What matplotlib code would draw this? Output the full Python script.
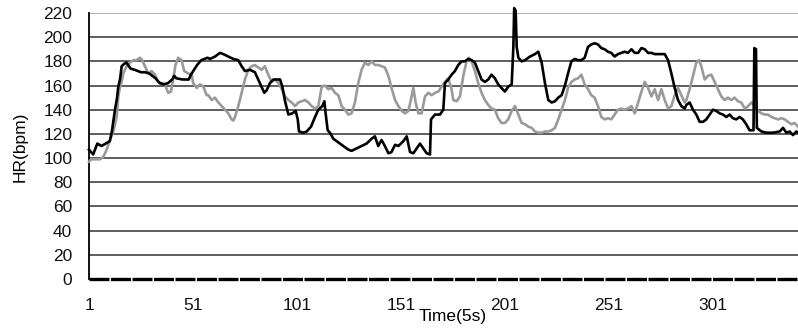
import matplotlib
matplotlib.use("Agg")
import matplotlib.pyplot as plt

plt.rcParams["font.family"] = ["Liberation Sans", "DejaVu Sans"]

# --- data (x = sample index, y = HR in bpm) ---
black_x = [1, 3, 5, 7, 9, 11, 12, 13.5, 14.5, 15, 16, 16.7, 18, 19, 21, 23, 26, 28, 30, 33,
           35, 37, 39, 41, 42, 43, 46, 49, 50, 53, 55, 58, 59.2, 61.6, 64, 65.6, 68, 70.4,
           72.8, 74.4, 76, 78.4, 80.8, 82.4, 84, 85.3, 86.4, 88, 89.7, 91.3, 92.9, 94, 95.3,
           96.9, 98.8, 100.4, 101.4, 102, 104.1, 105.7, 107.8, 109.7, 111.3, 113.2, 114.2,
           114.8, 115.8, 116.9, 118.5, 120.1, 121.7, 123.3, 125.7, 127.3, 129.7, 132.1,
           134.5, 136.9, 138.5, 140.1, 141.7, 143.3, 145, 146.5, 148.2, 149.8, 152.2, 153.8,
           155.4, 157, 158.6, 160.2, 161.8, 163.4, 165, 165.5, 167.4, 169.8, 171.4, 172.2,
           173.8, 175.4, 177, 178.6, 180.2, 181.8, 183.4, 185, 186.6, 188.2, 189.8, 191.4,
           193, 194.6, 196.2, 197.8, 199.4, 201, 202.6, 204.3, 205.1, 205.5, 206.2, 206.7,
           207.5, 209.1, 210.7, 213.1, 215.5, 217.1, 218.7, 220.3, 221.9, 223.5, 225.1,
           226.7, 228.3, 229.9, 231.4, 233, 234.6, 236.2, 237.8, 239.4, 241, 242.6, 244.2,
           245.8, 247.4, 249, 250.6, 252.2, 253.8, 255.4, 257, 258.6, 260.2, 261.9, 263.5,
           265.1, 266.7, 268.3, 269.9, 271.5, 273.1, 274.7, 276.3, 277.9, 279.5, 281.1,
           282.7, 284.3, 285.9, 287.5, 288.3, 289.9, 291.5, 293.1, 294.7, 296.3, 297.9,
           299.5, 301.1, 302.7, 304.3, 305.9, 307.5, 309.1, 310.7, 312.3, 313.9, 315.5,
           317.1, 318.7, 320.6, 321, 321.8, 322.2, 324.4, 326.8, 330, 333.2, 334.8, 336.4,
           338, 339.6, 341.2, 342]
black_y = [107, 103, 112, 110, 112, 114, 122, 140, 150, 158, 166, 176, 178, 179, 174, 173, 171, 171, 170, 166,
           162, 161, 162, 165, 168, 166, 165, 165, 169, 177, 181, 183, 182, 184, 187, 186, 184, 182,
           181, 176, 172, 173, 171, 165, 159, 154, 156, 162, 165, 165, 165, 159, 147,
           136, 137, 139, 132, 122, 121, 122, 126, 134, 140, 143, 147,
           137, 123, 121, 116, 114, 112, 110, 107, 106, 108, 110,
           112, 116, 118, 110, 115, 110, 104, 105, 111, 110, 114, 118,
           105, 104, 108, 112, 108, 104, 103, 132, 136, 136, 140, 162,
           165, 169, 172, 177, 180, 180, 182, 181, 179, 172, 165, 163,
           165, 169, 166, 161, 158, 155, 159, 161, 192, 224, 222, 192,
           183, 180, 181, 184, 186, 188, 179, 162, 148, 146, 147,
           150, 152, 160, 170, 180, 182, 181, 181, 183, 192, 194, 195,
           194, 191, 190, 188, 187, 184, 186, 187, 188, 187, 190, 187,
           187, 191, 190, 187, 187, 186, 186, 186, 186, 181, 170,
           158, 148, 143, 141, 144, 146, 140, 136, 130, 130, 132,
           136, 140, 139, 137, 136, 134, 136, 133, 132, 134, 132,
           128, 123, 123, 191, 190, 125, 122, 121, 121, 122, 125, 121,
           122, 119, 122, 121]

gray_x = [1, 2, 3.9, 6.3, 7.9, 9.5, 11.1, 12.7, 14.3, 15.1, 15.9, 16.7, 17.5, 19.1, 20.7, 22.3,
          23.9, 25.5, 26.6, 27.9, 29.5, 31.1, 32.7, 34.3, 35.9, 37.5, 39.1, 40.4, 41.5, 42.6,
          43.9, 45.5, 46.8, 48.7, 50.4, 51.1, 52.8, 54.4, 56, 57.6, 58.4, 60, 61.6, 63.2,
          64.8, 66.4, 68, 69.6, 70.4, 71.2, 72.8, 74.4, 76, 77.6, 79.2, 80.8, 82.4, 84, 85.6,
          87.2, 88.9, 90.5, 92.1, 93.7, 95.3, 96.9, 98.5, 100.1, 101.7, 103.3, 104.9, 106.5,
          108.1, 109.7, 111.3, 112.9, 114.5, 116.1, 117.7, 119.3, 120.9, 122.5, 124.1, 125.7,
          127.3, 128.9, 130.5, 132.1, 133.7, 135.3, 136.9, 138.5, 140.1, 141.7, 143.3, 145,
          146.5, 148.2, 149.8, 151.4, 153, 154.6, 155.8, 157, 158.1, 159.4, 161, 162.6, 164.2,
          165.8, 167.4, 169, 170.6, 172.2, 173.8, 175.4, 176.2, 177.8, 179.4, 181, 182.6,
          183.7, 185, 186.6, 188.2, 189.8, 191.4, 193, 194.6, 196.2, 197.8, 199.4, 201,
          202.6, 204.3, 205.9, 207.5, 209.1, 210.7, 212.3, 213.9, 215.5, 217.1, 218.7, 220.3,
          221.9, 223.5, 225.1, 226.7, 228.3, 229.9, 231.4, 233, 234.6, 236.2, 237.8, 239.4,
          241, 242.6, 244.2, 245.8, 247.4, 249, 250.6, 252.2, 253.8, 255.4, 257, 258.6, 260.2,
          261.9, 263.5, 265.1, 266.7, 268.3, 269.9, 271.5, 273.1, 274.7, 276.3, 277.9, 279.5,
          281.1, 282.7, 284.3, 285.9, 287.5, 288.3, 289.9, 291.5, 293.1, 294.4, 295.5, 297.1,
          298.7, 300.3, 301.9, 303.5, 305.1, 306.7, 308.3, 309.9, 311.5, 313.1, 314.7, 316.4,
          318, 319.6, 321.2, 322.8, 324.4, 326, 327.6, 329.2, 330.8, 332.4, 334, 335.6, 337.2,
          338.8, 340.4, 342]
gray_y = [97, 99, 99, 99, 101, 107, 115, 122, 134, 151, 159, 163, 170, 176, 179, 181,
          181, 183, 181, 176, 170, 172, 169, 163, 162, 161, 154, 155, 165, 177,
          183, 181, 172, 170, 169, 162, 158, 161, 159, 152, 152, 148, 150, 146,
          143, 140, 137, 132, 131, 134, 143, 154, 165, 173, 176, 177, 175, 173, 176,
          169, 163, 165, 162, 157, 151, 148, 146, 143, 146, 147, 148, 146,
          143, 141, 143, 159, 160, 157, 158, 154, 152, 143, 140, 136,
          137, 146, 162, 173, 179, 177, 180, 177, 177, 176, 175, 168,
          158, 148, 143, 139, 137, 139, 148, 158, 146, 137, 137, 151, 154,
          152, 154, 155, 159, 163, 166, 157, 148, 147, 151, 168, 180,
          183, 180, 172, 162, 154, 148, 144, 141, 140, 133, 129, 129,
          132, 139, 143, 136, 129, 128, 126, 125, 122, 121, 121, 122,
          122, 123, 125, 132, 140, 148, 158, 163, 165, 166, 169, 161,
          157, 152, 150, 143, 134, 132, 133, 132, 136, 140, 141, 140, 141,
          143, 137, 146, 155, 163, 158, 151, 157, 148, 157, 148, 141,
          143, 152, 158, 152, 146, 148, 157, 168, 179, 181, 176, 165,
          168, 169, 163, 157, 151, 148, 150, 148, 150, 147, 146, 141,
          143, 146, 143, 139, 137, 136, 136, 134, 133, 132, 133, 132, 130,
          128, 129, 126]

y_ticks = list(range(0, 221, 20))
x_ticks = [1, 51, 101, 151, 201, 251, 301]

fig = plt.figure(figsize=(7.98, 3.33), dpi=100)
ax = fig.add_axes([89 / 798, 54 / 333, 1 - 89 / 798, 266 / 333])

# horizontal grid lines (top one is lighter in the original)
for v in y_ticks[1:]:
    ax.axhline(v, color="#999999" if v == 220 else "#333333", lw=1.1, zorder=1)
# thick dashed base line at 0
ax.axhline(0, color="black", lw=2.4, dashes=(6, 0.45), zorder=2, clip_on=False)

ax.plot(gray_x, gray_y, color="#9a9a9a", lw=1.9, zorder=3, clip_on=False)
ax.plot(black_x, black_y, color="black", lw=1.9, zorder=4, clip_on=False)

ax.set_xlim(1, 342)
ax.set_ylim(0, 220)
ax.set_yticks(y_ticks)
ax.set_xticks(x_ticks)
ax.tick_params(axis="both", length=0, labelsize=12.5, colors="#111111")
ax.tick_params(axis="y", pad=12)
ax.tick_params(axis="x", pad=14)

for s in ["top", "right", "bottom"]:
    ax.spines[s].set_visible(False)
ax.spines["left"].set_color("black")
ax.spines["left"].set_linewidth(1.3)

fig.text(453 / 798, 1 - 316 / 333, "Time(5s)", ha="center", va="center", fontsize=12.5)
fig.text(20 / 798, 1 - 147 / 333, "HR(bpm)", ha="center", va="center",
         rotation=90, fontsize=12.5)

fig.savefig("out.png", dpi=100)
